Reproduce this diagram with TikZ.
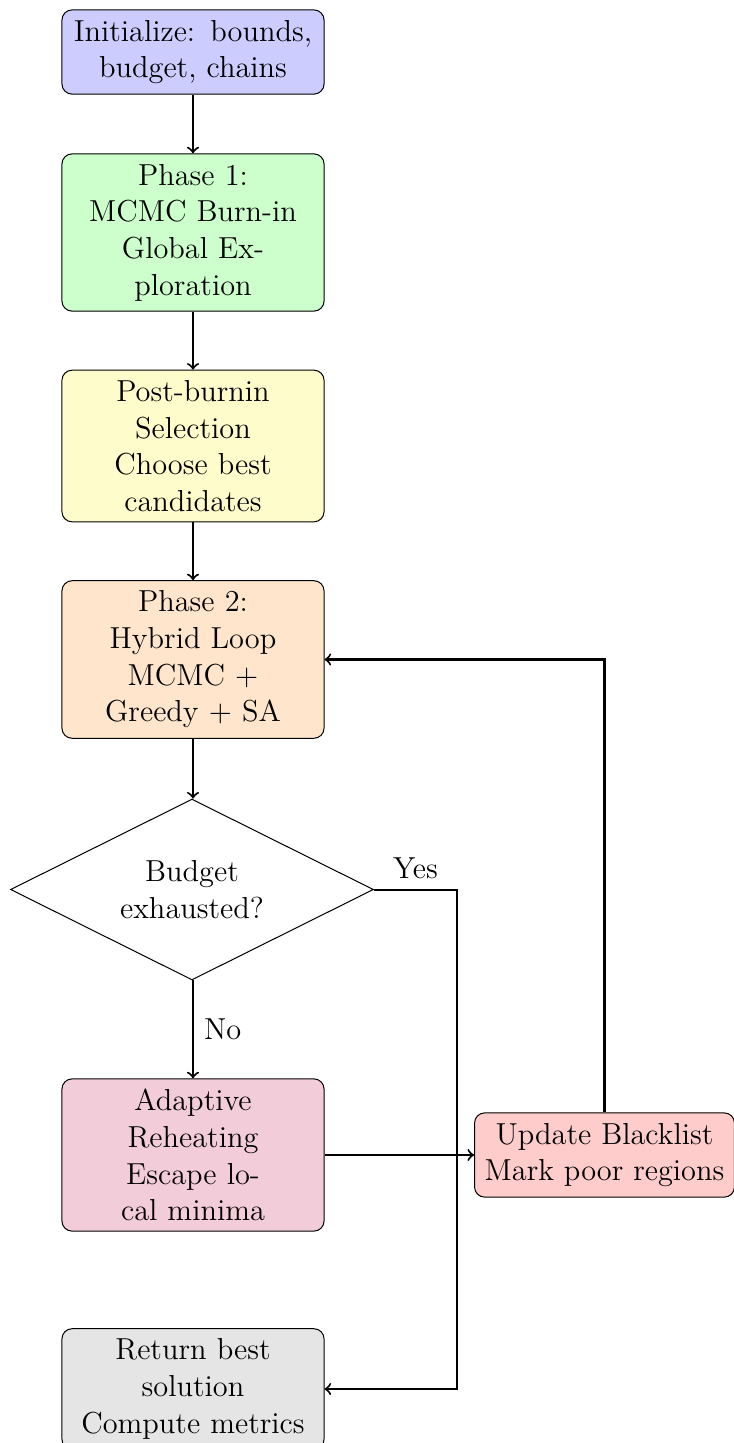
\documentclass[12pt,tikz,border=0pt]{standalone}
\usetikzlibrary{shapes.geometric}
\begin{document}
\begin{tikzpicture}[x=0.3953pt,y=-0.3953pt,
  box/.style={draw, rounded corners=4pt, text width=95.6pt, align=center},
  wbox/.style={draw, rounded corners=4pt, align=center},
  decision/.style={draw, diamond, aspect=2, text width=2.4cm, align=center, inner sep=1pt, minimum width=143.5pt, minimum height=71.5pt},
  arr/.style={->, thick}]
\useasboundingbox (0,0) rectangle (733,1443);
\node[box, fill=blue!20] (init) at (193,52) {Initialize: bounds,\\budget, chains};
\node[box, fill=green!20] (ph1) at (193,232.5) {Phase 1:\\MCMC Burn-in\\Global Ex-\\ploration};
\node[box, fill=yellow!20] (sel) at (193,446) {Post-burnin\\Selection\\Choose best\\candidates};
\node[box, fill=orange!20] (ph2) at (193,659.5) {Phase 2:\\Hybrid Loop\\MCMC +\\Greedy + SA};
\node[decision] (dec) at (192,889.5) {Budget exhausted?};
\node[box, fill=purple!20] (ada) at (193,1155) {Adaptive\\Reheating\\Escape lo-\\cal minima};
\node[wbox, fill=red!20] (bl) at (604.5,1155) {Update Blacklist\\Mark poor regions};
\node[box, fill=gray!20] (ret) at (193,1389) {Return best\\solution\\Compute metrics};
\coordinate (yc) at (457,889.5);
\draw[arr] (init) -- (ph1);
\draw[arr] (ph1) -- (sel);
\draw[arr] (sel) -- (ph2);
\draw[arr] (ph2) -- (ph2 |- dec.north);
\draw[arr] (ada |- dec.south) -- node[right]{No} (ada);
\draw[arr] (dec.east) -- node[above]{Yes} (yc) |- (ret.east);
\draw[arr] (ada) -- (bl);
\draw[arr] (bl.north) |- (ph2.east);
\end{tikzpicture}
\end{document}
